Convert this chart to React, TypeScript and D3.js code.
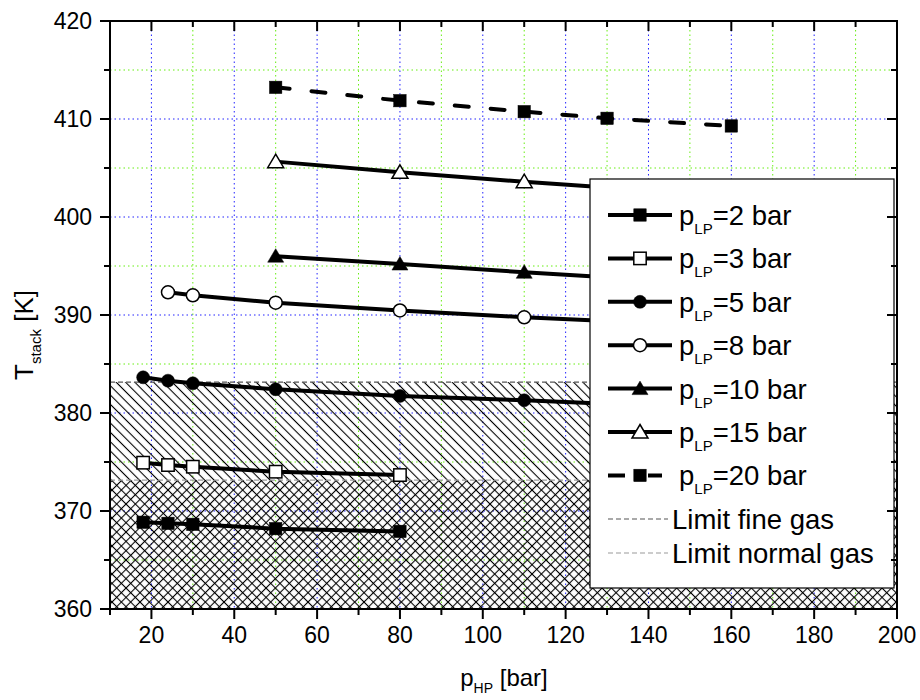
import React from "react";
import * as d3 from "d3";

// ---- data ----
const xTicksMajor = [20, 40, 60, 80, 100, 120, 140, 160, 180, 200];
const xTicksMinor = [10, 30, 50, 70, 90, 110, 130, 150, 170, 190];
const yTicksMajor = [360, 370, 380, 390, 400, 410, 420];
const yTicksMinor = [365, 375, 385, 395, 405, 415];

const pHP_2 = [18, 24, 30, 50, 80];
const T_2 = [368.85, 368.74, 368.64, 368.2, 367.92];
const pHP_3 = [18, 24, 30, 50, 80];
const T_3 = [374.93, 374.69, 374.52, 374.01, 373.67];
const pHP_5 = [18, 24, 30, 50, 80, 110, 130, 160];
const T_5 = [383.64, 383.3, 383.03, 382.42, 381.74, 381.3, 380.95, 380.5];
const pHP_8 = [24, 30, 50, 80, 110, 130, 160];
const T_8 = [392.32, 392.01, 391.26, 390.46, 389.77, 389.4, 388.9];
const pHP_10 = [50, 80, 110, 130, 160];
const T_10 = [396.0, 395.2, 394.36, 393.85, 393.1];
const pHP_15 = [50, 80, 110, 130, 160];
const T_15 = [405.65, 404.56, 403.6, 403.0, 402.2];
const pHP_20 = [50, 80, 110, 130, 160];
const T_20 = [413.23, 411.87, 410.75, 410.07, 409.29];

const seriesLabels = ["2", "3", "5", "8", "10", "15", "20"];
const limitFineGas = 383.15;
const limitNormalGas = 373.15;

type Marker = "sqF" | "sqO" | "ciF" | "ciO" | "trF" | "trO";
const series: { label: string; xs: number[]; ys: number[]; marker: Marker; dashed: boolean }[] = [
  { label: seriesLabels[0], xs: pHP_2, ys: T_2, marker: "sqF", dashed: false },
  { label: seriesLabels[1], xs: pHP_3, ys: T_3, marker: "sqO", dashed: false },
  { label: seriesLabels[2], xs: pHP_5, ys: T_5, marker: "ciF", dashed: false },
  { label: seriesLabels[3], xs: pHP_8, ys: T_8, marker: "ciO", dashed: false },
  { label: seriesLabels[4], xs: pHP_10, ys: T_10, marker: "trF", dashed: false },
  { label: seriesLabels[5], xs: pHP_15, ys: T_15, marker: "trO", dashed: false },
  { label: seriesLabels[6], xs: pHP_20, ys: T_20, marker: "sqF", dashed: true },
];

const FONT = "Arial, 'Liberation Sans', Helvetica, sans-serif";

function MarkerShape({ type, x, y }: { type: Marker; x: number; y: number }) {
  const filled = type.endsWith("F");
  const fill = filled ? "#000" : "#fff";
  const stroke = "#000";
  if (type.startsWith("sq")) {
    return <rect x={x - 6.2} y={y - 6.2} width={12.4} height={12.4} fill={fill} stroke={stroke} strokeWidth={filled ? 0.5 : 1.5} />;
  }
  if (type.startsWith("ci")) {
    return <circle cx={x} cy={y} r={6.5} fill={fill} stroke={stroke} strokeWidth={filled ? 0.5 : 1.5} />;
  }
  return (
    <path
      d={`M${x},${y - 7.5} L${x + 8},${y + 6} L${x - 8},${y + 6} Z`}
      fill={fill}
      stroke={stroke}
      strokeWidth={filled ? 0.5 : 1.5}
      strokeLinejoin="miter"
    />
  );
}

export default function App() {
  const left = 110, right = 897, top = 21, bottom = 609;
  const x = d3.scaleLinear().domain([10, 200]).range([left, right]);
  const y = d3.scaleLinear().domain([360, 420]).range([bottom, top]);
  const line = d3
    .line<[number, number]>()
    .x((d) => x(d[0]))
    .y((d) => y(d[1]));

  const gridMajorX = xTicksMajor.filter((v) => v > 10 && v < 200);
  const gridMinorX = xTicksMinor.filter((v) => v > 10 && v < 200);
  const gridMajorY = yTicksMajor.filter((v) => v > 360 && v < 420);

  const legendX = 590, legendY = 179, legendW = 304, legendH = 409;
  const rowY = (i: number) => 215 + i * 43.4;
  const hp = 6.6;

  return (
    <svg width={920} height={700} style={{ position: "absolute", left: 0, top: 0, display: "block" }} fontFamily={FONT}>
      <defs>
        <pattern id="hatchFine" patternUnits="userSpaceOnUse" width={hp} height={hp} patternTransform="rotate(45)">
          <line x1={-1} y1={hp / 2} x2={hp + 1} y2={hp / 2} stroke="#000" strokeWidth={1.1} />
        </pattern>
        <pattern id="hatchNormal" patternUnits="userSpaceOnUse" width={hp} height={hp} patternTransform="rotate(-45)">
          <line x1={-1} y1={hp / 2} x2={hp + 1} y2={hp / 2} stroke="#000" strokeWidth={1.1} />
        </pattern>
        <clipPath id="plotClip">
          <rect x={left} y={top} width={right - left} height={bottom - top} />
        </clipPath>
      </defs>
      <rect x={0} y={0} width={920} height={700} fill="#fff" />

      {/* grid */}
      <g>
        {gridMinorX.map((v) => (
          <line key={"gmx" + v} x1={x(v)} x2={x(v)} y1={top} y2={bottom} stroke="#66ee11" strokeWidth={1} strokeDasharray="1.5 3" />
        ))}
        {yTicksMinor.map((v) => (
          <line key={"gmy" + v} x1={left} x2={right} y1={y(v)} y2={y(v)} stroke="#66ee11" strokeWidth={1} strokeDasharray="1.5 3" />
        ))}
        {gridMajorX.map((v) => (
          <line key={"gx" + v} x1={x(v)} x2={x(v)} y1={top} y2={bottom} stroke="#2222ff" strokeWidth={1} strokeDasharray="1.5 3" />
        ))}
        {gridMajorY.map((v) => (
          <line key={"gy" + v} x1={left} x2={right} y1={y(v)} y2={y(v)} stroke="#2222ff" strokeWidth={1} strokeDasharray="1.5 3" />
        ))}
      </g>

      {/* hatched limit regions */}
      <g clipPath="url(#plotClip)">
        <rect x={left} y={y(limitFineGas)} width={right - left} height={bottom - y(limitFineGas)} fill="url(#hatchFine)" />
        <rect x={left} y={y(limitNormalGas)} width={right - left} height={bottom - y(limitNormalGas)} fill="url(#hatchNormal)" />
        <line x1={left} x2={right} y1={y(limitFineGas)} y2={y(limitFineGas)} stroke="#555" strokeWidth={1.2} strokeDasharray="5 3" />
        <line x1={left} x2={right} y1={y(limitNormalGas)} y2={y(limitNormalGas)} stroke="#999" strokeWidth={1.2} strokeDasharray="5 3" />
      </g>

      {/* series */}
      <g clipPath="url(#plotClip)">
        {series.map((s) => {
          const pts = s.xs.map((v, i) => [v, s.ys[i]] as [number, number]);
          return (
            <path
              key={"l" + s.label}
              d={line(pts) || ""}
              fill="none"
              stroke="#000"
              strokeWidth={4}
              strokeLinecap={s.dashed ? "round" : "butt"}
              strokeLinejoin="round"
              strokeDasharray={s.dashed ? "14 22" : undefined}
            />
          );
        })}
        {series.map((s) =>
          s.xs.map((v, i) => <MarkerShape key={"m" + s.label + "-" + i} type={s.marker} x={x(v)} y={y(s.ys[i])} />)
        )}
      </g>

      {/* legend */}
      <g>
        <rect x={legendX} y={legendY} width={legendW} height={legendH} fill="#fff" stroke="#000" strokeWidth={1.2} />
        {series.map((s, i) => {
          const ly = rowY(i);
          return (
            <g key={"lg" + s.label}>
              <line
                x1={608}
                x2={s.dashed ? 662 : 672}
                y1={ly}
                y2={ly}
                stroke="#000"
                strokeWidth={4}
                strokeDasharray={s.dashed ? "17 23 14" : undefined}
              />
              <MarkerShape type={s.marker} x={640} y={ly} />
              <text x={679} y={ly + 10} fontSize={27.5} fill="#000">
                p
                <tspan fontSize={15} dy={9}>LP</tspan>
                <tspan dy={-9}>{"=" + s.label + " bar"}</tspan>
              </text>
            </g>
          );
        })}
        <line x1={608} x2={668} y1={519} y2={519} stroke="#555" strokeWidth={1.2} strokeDasharray="5 3" />
        <text x={672} y={529} fontSize={27.5} fill="#000">Limit fine gas</text>
        <line x1={608} x2={668} y1={553} y2={553} stroke="#999" strokeWidth={1.2} strokeDasharray="5 3" />
        <text x={672} y={563} fontSize={27.5} fill="#000">Limit normal gas</text>
      </g>

      {/* axes frame */}
      <rect x={left} y={top} width={right - left} height={bottom - top} fill="none" stroke="#000" strokeWidth={2} />

      {/* ticks */}
      <g stroke="#000" strokeWidth={2}>
        {xTicksMajor.map((v) => (
          <g key={"xt" + v}>
            <line x1={x(v)} x2={x(v)} y1={bottom} y2={bottom + 10} />
            <line x1={x(v)} x2={x(v)} y1={top} y2={top + 10} />
          </g>
        ))}
        {xTicksMinor.map((v) => (
          <g key={"xtm" + v}>
            <line x1={x(v)} x2={x(v)} y1={bottom} y2={bottom + 6} />
            <line x1={x(v)} x2={x(v)} y1={top} y2={top + 6} />
          </g>
        ))}
        {yTicksMajor.map((v) => (
          <g key={"yt" + v}>
            <line x1={left - 10} x2={left} y1={y(v)} y2={y(v)} />
            <line x1={right - 10} x2={right} y1={y(v)} y2={y(v)} />
          </g>
        ))}
        {yTicksMinor.map((v) => (
          <g key={"ytm" + v}>
            <line x1={left - 6} x2={left} y1={y(v)} y2={y(v)} />
            <line x1={right - 6} x2={right} y1={y(v)} y2={y(v)} />
          </g>
        ))}
      </g>

      {/* tick labels */}
      <g fontSize={23} fill="#000">
        {xTicksMajor.map((v) => (
          <text key={"xl" + v} x={x(v)} y={643} textAnchor="middle">
            {v}
          </text>
        ))}
        {yTicksMajor.map((v) => (
          <text key={"yl" + v} x={92} y={y(v)} dy="0.35em" textAnchor="end">
            {v}
          </text>
        ))}
      </g>

      {/* axis titles */}
      <text x={504} y={686} fontSize={24} textAnchor="middle" fill="#000">
        p
        <tspan fontSize={14} dy={7}>HP</tspan>
        <tspan dy={-7}>{" [bar]"}</tspan>
      </text>
      <text transform="translate(33,335) rotate(-90)" fontSize={26} textAnchor="middle" fill="#000">
        T
        <tspan fontSize={15} dy={8}>stack</tspan>
        <tspan dy={-8}>{" [K]"}</tspan>
      </text>
    </svg>
  );
}
